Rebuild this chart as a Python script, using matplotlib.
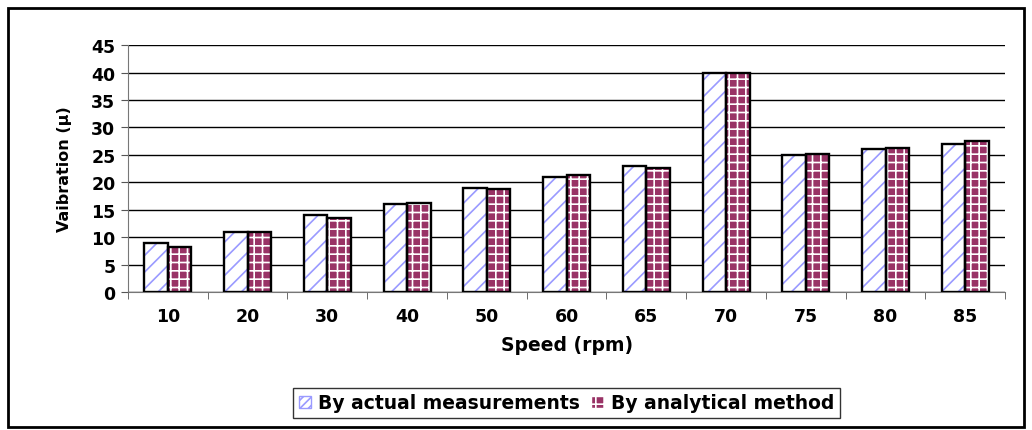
import numpy as np
import matplotlib
from matplotlib import pyplot as plt
from matplotlib.patches import Rectangle, Patch

matplotlib.use('agg')

plt.rcParams['font.family'] = ['DejaVu Sans']
plt.rcParams['font.weight'] = 'bold'

speeds = ['10', '20', '30', '40', '50', '60', '65', '70', '75', '80', '85']
actual = [9, 11, 14, 16, 19, 21, 22.9, 40, 25, 26, 27]
analytical = [8.2, 11, 13.5, 16.3, 18.7, 21.3, 22.6, 40, 25.1, 26.3, 27.5]

blue_hatch = '#9a9aff'
maroon = '#993366'

fig = plt.figure(figsize=(10.32, 4.31), dpi=100)
ax = fig.add_axes([0.124, 0.320, 0.850, 0.573])

x = np.arange(len(speeds))
w = 0.295

# hatched fill first, black outline on top
plt.rcParams['hatch.linewidth'] = 1.2
ax.bar(x - w / 2, actual, w, facecolor='white', edgecolor=blue_hatch,
       hatch='//', linewidth=0, zorder=3)
ax.bar(x - w / 2, actual, w, facecolor='none', edgecolor='black',
       linewidth=1.7, zorder=4)
ax.bar(x + w / 2, analytical, w, facecolor=maroon, edgecolor='white',
       hatch='++', linewidth=0, zorder=3)
ax.bar(x + w / 2, analytical, w, facecolor='none', edgecolor='black',
       linewidth=1.7, zorder=4)

ax.set_xlim(-0.5, len(speeds) - 0.5)
ax.set_ylim(0, 45)
ax.set_yticks(range(0, 50, 5))
ax.set_yticklabels([str(v) for v in range(0, 50, 5)], fontsize=12.5, fontweight='bold')
ax.yaxis.grid(True, color='black', linewidth=1.0, zorder=0)
ax.set_axisbelow(True)

ax.set_xticks(x)
ax.set_xticklabels(speeds, fontsize=12.5, fontweight='bold')
ax.set_xticks(np.arange(-0.5, len(speeds), 1.0), minor=True)
ax.tick_params(axis='x', which='major', length=0, pad=11)
ax.tick_params(axis='x', which='minor', length=5, color='#555555')
ax.tick_params(axis='y', length=5, color='#555555', pad=4)

for side in ['top', 'right']:
    ax.spines[side].set_visible(False)
ax.spines['left'].set_color('#777777')
ax.spines['bottom'].set_color('#777777')

ax.set_xlabel('Speed (rpm)', fontsize=13.5, fontweight='bold', labelpad=7)
ax.set_ylabel('Vaibration (\u00b5)', fontsize=11.5, fontweight='bold', labelpad=14)

handles = [
    Patch(facecolor='white', edgecolor=blue_hatch, hatch='////'),
    Patch(facecolor=maroon, edgecolor='white', hatch='++'),
]
leg = ax.legend(handles, ['By actual measurements', 'By analytical method'],
                loc='center', bbox_to_anchor=(0.5, -0.449), ncol=2,
                prop={'size': 13.5, 'weight': 'bold'}, frameon=True, fancybox=False,
                edgecolor='black', handlelength=0.65, handleheight=0.65,
                handletextpad=0.4, columnspacing=0.6, borderpad=0.3,
                borderaxespad=0)
leg.get_frame().set_linewidth(1.0)

# outer chart border
fig.patches.append(Rectangle((0.008, 0.008), 0.984, 0.972, transform=fig.transFigure,
                             fill=False, edgecolor='black', linewidth=2))

fig.savefig('out.png', dpi=100)
